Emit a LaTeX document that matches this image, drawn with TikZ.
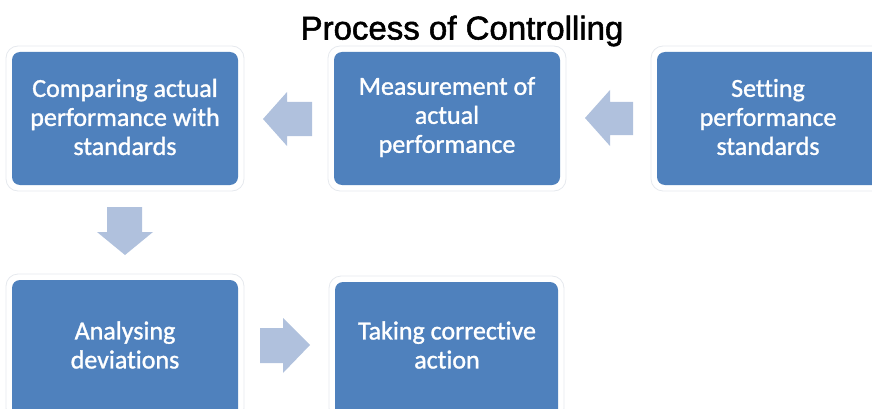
\documentclass[tikz,border=0pt]{standalone}
\usepackage{fontspec}
\newfontfamily\boxfont[FakeBold=1.2, Ligatures=NoCommon]{Carlito}
\newfontfamily\titlefont[FakeBold=1.6]{Liberation Sans}
\definecolor{boxblue}{HTML}{4F81BD}
\definecolor{arrblue}{HTML}{B0C1DD}
\definecolor{halo}{HTML}{E6E9EE}
\begin{document}
\begin{tikzpicture}[x=1pt,y=-1pt,
  stepbox/.style={fill=boxblue, rounded corners=8pt, minimum width=226pt, inner sep=0pt},
  haloline/.style={draw=halo, fill=white, line width=0.8pt, rounded corners=12pt},
  steptext/.style={text=white, align=center, font=\boxfont\fontsize{26}{29}\selectfont},
  arr/.style={fill=arrblue, draw=none}]
\useasboundingbox (0,0) rectangle (872,409);
\begin{scope}
\clip (0,0) rectangle (872,409);
% halos
\draw[haloline] (6,46) rectangle (244,191);
\draw[haloline] (328,46) rectangle (566,191);
\draw[haloline] (651,46) rectangle (889,191);
\draw[haloline] (6,274) rectangle (244,420);
\draw[haloline] (329,276) rectangle (564,420);
% boxes
\node[stepbox, minimum height=133pt] (b1) at (125,118.5) {};
\node[stepbox, minimum height=133pt] (b2) at (447,118.5) {};
\node[stepbox, minimum height=133pt] (b3) at (770,118.5) {};
\node[stepbox, minimum height=140pt] (b4) at (125,350) {};
\node[stepbox, minimum width=223pt, minimum height=140pt] (b5) at (446.5,352) {};
\end{scope}
% texts
\node[steptext] (t1) at (125,117) {Comparing actual\\performance with\\standards};
\node[steptext] (t2) at (447,117) {Measurement of\\actual\\performance};
\node[steptext] (t3) at (768,117) {Setting\\performance\\standards};
\node[steptext] (t4) at (125,345) {Analysing\\deviations};
\node[steptext] (t5) at (447,345) {Taking corrective\\action};
\node[font=\titlefont\fontsize{33}{38}\selectfont, anchor=base] (title) at (462,39.5) {Process of Controlling};
% arrows
\coordinate (a1) at (263,119);
\fill[arr] (312,102) -- (287,102) -- (287,92) -- (a1) -- (287,146) -- (287,136) -- (312,136) -- cycle;
\coordinate (a2) at (585,118);
\fill[arr] (633,102) -- (610,102) -- (610,90) -- (a2) -- (610,146) -- (610,135) -- (633,135) -- cycle;
\coordinate (a3) at (125,255);
\fill[arr] (107,207) -- (142,207) -- (142,232) -- (153,232) -- (a3) -- (97,232) -- (107,232) -- cycle;
\coordinate (a4) at (310,345);
\fill[arr] (260,328) -- (283,328) -- (283,318) -- (a4) -- (283,373) -- (283,363) -- (260,363) -- cycle;
\end{tikzpicture}
\end{document}
